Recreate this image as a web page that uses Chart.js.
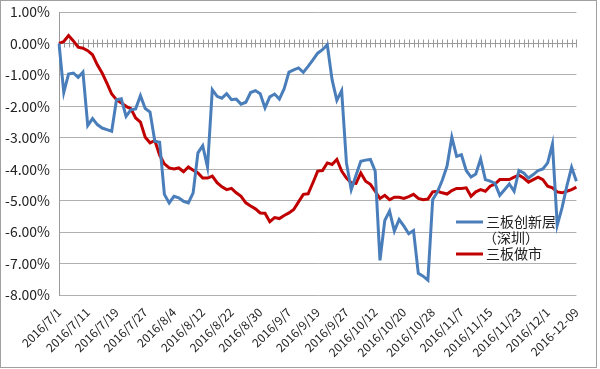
<!DOCTYPE html>
<html>
<head>
<meta charset="utf-8">
<script src="https://cdn.jsdelivr.net/npm/chart.js@4/dist/chart.umd.min.js"></script>
<style>
  html, body { margin: 0; padding: 0; background: #fff; }
  #wrap { width: 600px; height: 369px; position: relative; }
</style>
</head>
<body>
<div id="wrap"><canvas id="chart" width="600" height="369"></canvas></div>
<script>
// -------------------------------------------------------------------
// Data (trading days, cumulative return in %)
// -------------------------------------------------------------------
const DATES = [
  "2016/7/1","2016/7/4","2016/7/5","2016/7/6","2016/7/7","2016/7/8","2016/7/11","2016/7/12","2016/7/13","2016/7/14",
  "2016/7/15","2016/7/18","2016/7/19","2016/7/20","2016/7/21","2016/7/22","2016/7/25","2016/7/26","2016/7/27","2016/7/28",
  "2016/7/29","2016/8/1","2016/8/2","2016/8/3","2016/8/4","2016/8/5","2016/8/8","2016/8/9","2016/8/10","2016/8/11",
  "2016/8/12","2016/8/15","2016/8/16","2016/8/17","2016/8/18","2016/8/19","2016/8/22","2016/8/23","2016/8/24","2016/8/25",
  "2016/8/26","2016/8/29","2016/8/30","2016/8/31","2016/9/1","2016/9/2","2016/9/5","2016/9/6","2016/9/7","2016/9/8",
  "2016/9/9","2016/9/12","2016/9/13","2016/9/14","2016/9/19","2016/9/20","2016/9/21","2016/9/22","2016/9/23","2016/9/26",
  "2016/9/27","2016/9/28","2016/9/29","2016/9/30","2016/10/10","2016/10/11","2016/10/12","2016/10/13","2016/10/14","2016/10/17",
  "2016/10/18","2016/10/19","2016/10/20","2016/10/21","2016/10/24","2016/10/25","2016/10/26","2016/10/27","2016/10/28","2016/10/31",
  "2016/11/1","2016/11/2","2016/11/3","2016/11/4","2016/11/7","2016/11/8","2016/11/9","2016/11/10","2016/11/11","2016/11/14",
  "2016/11/15","2016/11/16","2016/11/17","2016/11/18","2016/11/21","2016/11/22","2016/11/23","2016/11/24","2016/11/25","2016/11/28",
  "2016/11/29","2016/11/30","2016/12/1","2016/12/2","2016/12/5","2016/12/6","2016/12/7","2016/12/8","2016-12-09"
];

const INNOVATION = [
   0.00, -1.56, -0.97, -0.94, -1.08, -0.91, -2.61, -2.39, -2.58, -2.69,
  -2.74, -2.79, -1.79, -1.76, -2.32, -2.11, -2.08, -1.66, -2.07, -2.18,
  -3.11, -3.14, -4.80, -5.07, -4.86, -4.91, -5.02, -5.07, -4.75, -3.48,
  -3.25, -3.93, -1.47, -1.68, -1.74, -1.60, -1.79, -1.77, -1.93, -1.87,
  -1.56, -1.50, -1.60, -2.05, -1.70, -1.61, -1.77, -1.44, -0.91, -0.84,
  -0.78, -0.92, -0.73, -0.52, -0.31, -0.20, -0.04, -1.15, -1.81, -1.50,
  -3.80, -4.65, -4.19, -3.75, -3.71, -3.69, -4.06, -6.90, -5.63, -5.33,
  -5.97, -5.60, -5.81, -6.05, -5.95, -7.31, -7.40, -7.53, -4.97, -4.72,
  -4.35, -3.90, -2.98, -3.59, -3.54, -4.04, -4.25, -4.15, -3.67, -4.33,
  -4.38, -4.45, -4.83, -4.65, -4.47, -4.70, -4.04, -4.12, -4.28, -4.17,
  -4.04, -3.99, -3.80, -3.20, -5.78, -5.23, -4.54, -3.94, -4.38
];

const MARKET_MAKING = [
   0.00,  0.06,  0.25,  0.08, -0.12, -0.15, -0.23, -0.36, -0.68, -0.94,
  -1.26, -1.61, -1.79, -1.89, -2.00, -2.07, -2.37, -2.50, -2.98, -3.16,
  -3.09, -3.55, -3.83, -3.96, -3.99, -3.96, -4.08, -3.93, -4.03, -4.12,
  -4.28, -4.28, -4.22, -4.43, -4.56, -4.65, -4.61, -4.75, -4.86, -5.07,
  -5.17, -5.26, -5.39, -5.40, -5.67, -5.54, -5.57, -5.47, -5.39, -5.28,
  -5.04, -4.80, -4.78, -4.43, -4.06, -4.04, -3.80, -3.85, -3.69, -4.06,
  -4.28, -4.43, -4.45, -4.12, -4.38, -4.48, -4.70, -4.93, -4.83, -4.97,
  -4.89, -4.89, -4.93, -4.87, -4.80, -4.93, -4.97, -4.95, -4.72, -4.70,
  -4.75, -4.79, -4.68, -4.61, -4.61, -4.59, -4.86, -4.72, -4.65, -4.70,
  -4.54, -4.47, -4.33, -4.33, -4.33, -4.25, -4.19, -4.28, -4.41, -4.33,
  -4.25, -4.33, -4.54, -4.59, -4.72, -4.75, -4.70, -4.65, -4.57
];

const SERIES_NAMES = [["三板创新层", "（深圳）"], ["三板做市"]];
const Y_MIN = -8, Y_MAX = 1, Y_STEP = 1;
const LABEL_EVERY = 6;

// -------------------------------------------------------------------
// Plugins
// -------------------------------------------------------------------
const FONT = "'Noto Sans CJK SC', 'Noto Sans', sans-serif";

// zero line with a tick mark on every category, drawn under the series
const zeroAxis = {
  id: "zeroAxis",
  beforeDatasetsDraw(chart) {
    const { ctx, chartArea, scales: { x, y } } = chart;
    const y0 = Math.round(y.getPixelForValue(0)) + 0.5;
    ctx.save();
    ctx.strokeStyle = "#9a9a9a";
    ctx.lineWidth = 1;
    ctx.beginPath();
    ctx.moveTo(chartArea.left, y0);
    ctx.lineTo(chartArea.right, y0);
    for (let i = 0; i < DATES.length; i++) {
      const px = Math.round(x.getPixelForValue(i)) + 0.5;
      ctx.moveTo(px, y0 - 4);
      ctx.lineTo(px, y0 + 4);
    }
    ctx.stroke();
    ctx.restore();
  }
};

// legend inside the plot + outer frame
const innerLegend = {
  id: "innerLegend",
  afterDraw(chart) {
    const { ctx } = chart;
    ctx.save();
    ctx.strokeStyle = "#a0a0a0";
    ctx.lineWidth = 1;
    ctx.strokeRect(0.5, 0.5, 596, 367);

    ctx.font = "14px " + FONT;
    ctx.textBaseline = "middle";
    ctx.fillStyle = "#222";
    const rows = [222, 254];
    chart.data.datasets.forEach((ds, i) => {
      const yy = rows[i];
      ctx.strokeStyle = ds.borderColor;
      ctx.lineWidth = 3;
      ctx.beginPath();
      ctx.moveTo(456, yy);
      ctx.lineTo(483, yy);
      ctx.stroke();
      SERIES_NAMES[i].forEach((line, j) => {
        ctx.fillText(line, j === 0 ? 486 : 483, yy + j * 15.5);
      });
    });
    ctx.restore();
  }
};

// -------------------------------------------------------------------
// Chart
// -------------------------------------------------------------------
new Chart(document.getElementById("chart"), {
  type: "line",
  data: {
    labels: DATES,
    datasets: [
      {
        label: SERIES_NAMES[0].join(""),
        data: INNOVATION,
        borderColor: "#4a7ebb",
        borderWidth: 3,
        pointRadius: 0,
        tension: 0
      },
      {
        label: SERIES_NAMES[1].join(""),
        data: MARKET_MAKING,
        borderColor: "#c00000",
        borderWidth: 3,
        pointRadius: 0,
        tension: 0
      }
    ]
  },
  options: {
    responsive: false,
    animation: false,
    layout: { padding: { left: 0, top: 12, right: 23.6, bottom: 0 } },
    plugins: {
      legend:  { display: false },
      tooltip: { enabled: false }
    },
    scales: {
      x: {
        offset: false,
        grid: { display: false },
        border: { display: false },
        ticks: {
          autoSkip: false,
          minRotation: 45,
          maxRotation: 45,
          padding: 2,
          color: "#222",
          font: { family: FONT, size: 12 },
          callback: (v, i) => (i % LABEL_EVERY === 0 ? DATES[i] : "")
        },
        afterFit: s => { s.height = 74; }
      },
      y: {
        min: Y_MIN,
        max: Y_MAX,
        grid: { color: "#b0b0b0", lineWidth: 1, drawTicks: false },
        border: { display: true, color: "#9a9a9a" },
        ticks: {
          stepSize: Y_STEP,
          padding: 9,
          color: "#222",
          font: { family: FONT, size: 14 },
          callback: v => v.toFixed(2) + "%"
        },
        afterFit: s => {
          s.width = 59;
          s.paddingTop = 8;
          s.paddingBottom = 8;
        }
      }
    }
  },
  plugins: [zeroAxis, innerLegend]
});
</script>
</body>
</html>
